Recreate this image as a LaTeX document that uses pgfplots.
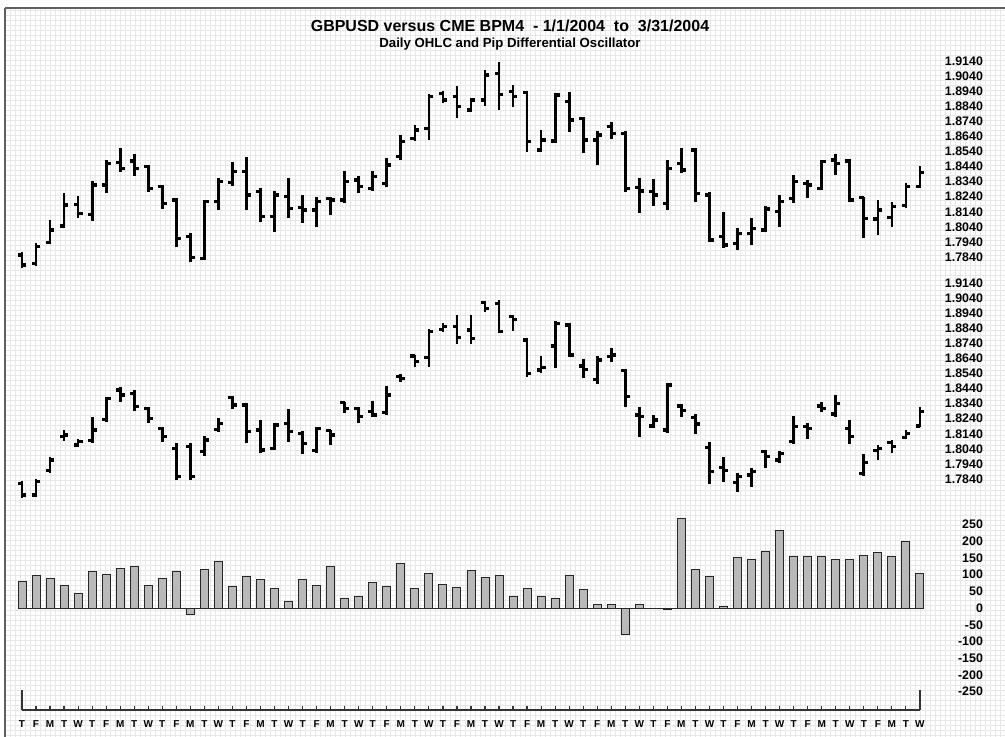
\documentclass[border=0pt]{standalone}
\usepackage{pgfplots}
\pgfplotsset{compat=1.18}
\usepackage{pgfplotstable}
\usepackage{fontspec}
\setmainfont{Liberation Sans}

% GBPUSD spot, daily OHLC
\pgfplotstableread{
i O H L C
0 1.7853 1.7871 1.7765 1.7787
1 1.7798 1.7931 1.7783 1.7909
2 1.7937 1.8086 1.7924 1.8019
3 1.8046 1.8262 1.8030 1.8185
4 1.8189 1.8247 1.8097 1.8130
5 1.8123 1.8344 1.8081 1.8318
6 1.8318 1.8484 1.8262 1.8461
7 1.8468 1.8565 1.8406 1.8428
8 1.8477 1.8526 1.8380 1.8428
9 1.8439 1.8450 1.8274 1.8296
10 1.8307 1.8318 1.8159 1.8196
11 1.8218 1.8229 1.7909 1.7964
12 1.7975 1.7997 1.7805 1.7836
13 1.7831 1.8218 1.7820 1.8207
14 1.8207 1.8362 1.8152 1.8340
15 1.8335 1.8473 1.8313 1.8406
16 1.8406 1.8504 1.8152 1.8251
17 1.8274 1.8296 1.8075 1.8108
18 1.8108 1.8278 1.8004 1.8251
19 1.8240 1.8366 1.8097 1.8163
20 1.8167 1.8251 1.8064 1.8152
21 1.8152 1.8240 1.8041 1.8207
22 1.8229 1.8240 1.8119 1.8218
23 1.8218 1.8411 1.8196 1.8340
24 1.8351 1.8380 1.8267 1.8307
25 1.8296 1.8411 1.8278 1.8373
26 1.8329 1.8495 1.8307 1.8450
27 1.8506 1.8649 1.8484 1.8605
28 1.8627 1.8716 1.8610 1.8683
29 1.8694 1.8919 1.8616 1.8904
30 1.8926 1.8941 1.8859 1.8882
31 1.8904 1.8977 1.8764 1.8837
32 1.8815 1.8897 1.8800 1.8882
33 1.8882 1.9081 1.8844 1.9047
34 1.9058 1.9131 1.8815 1.8919
35 1.8937 1.8981 1.8837 1.8904
36 1.8932 1.8941 1.8539 1.8605
37 1.8550 1.8683 1.8534 1.8616
38 1.8610 1.8926 1.8598 1.8915
39 1.8870 1.8932 1.8671 1.8749
40 1.8760 1.8771 1.8528 1.8616
41 1.8616 1.8676 1.8450 1.8649
42 1.8705 1.8738 1.8623 1.8660
43 1.8660 1.8676 1.8273 1.8296
44 1.8300 1.8362 1.8130 1.8278
45 1.8274 1.8358 1.8181 1.8251
46 1.8196 1.8484 1.8152 1.8428
47 1.8461 1.8565 1.8395 1.8417
48 1.8550 1.8561 1.8203 1.8262
49 1.8251 1.8274 1.7942 1.7953
50 1.7975 1.8141 1.7902 1.7920
51 1.7931 1.8030 1.7887 1.7997
52 1.7997 1.8101 1.7920 1.8030
53 1.8019 1.8181 1.8004 1.8159
54 1.8141 1.8251 1.8041 1.8207
55 1.8229 1.8384 1.8196 1.8340
56 1.8329 1.8351 1.8229 1.8318
57 1.8296 1.8484 1.8285 1.8473
58 1.8484 1.8523 1.8384 1.8461
59 1.8477 1.8490 1.8203 1.8218
60 1.8234 1.8240 1.7968 1.8097
61 1.8092 1.8218 1.7986 1.8152
62 1.8101 1.8203 1.8041 1.8174
63 1.8181 1.8333 1.8167 1.8307
64 1.8307 1.8444 1.8300 1.8402
}\spot

% CME BPM4 futures, daily OHLC
\pgfplotstableread{
i O H L C
0 1.7811 1.7827 1.7712 1.7734
1 1.7734 1.7838 1.7723 1.7822
2 1.7895 1.7984 1.7882 1.7966
3 1.8121 1.8165 1.8094 1.8132
4 1.8066 1.8103 1.8055 1.8088
5 1.8094 1.8254 1.8081 1.8165
6 1.8236 1.8386 1.8220 1.8375
7 1.8430 1.8448 1.8353 1.8397
8 1.8408 1.8430 1.8293 1.8320
9 1.8309 1.8320 1.8214 1.8242
10 1.8176 1.8187 1.8088 1.8121
11 1.8043 1.8077 1.7833 1.7856
12 1.8055 1.8081 1.7833 1.7856
13 1.8021 1.8125 1.7993 1.8099
14 1.8170 1.8242 1.8154 1.8209
15 1.8382 1.8391 1.8302 1.8331
16 1.8331 1.8342 1.8077 1.8154
17 1.8165 1.8231 1.8015 1.8032
18 1.8043 1.8209 1.8032 1.8198
19 1.8209 1.8302 1.8088 1.8154
20 1.8143 1.8161 1.8006 1.8077
21 1.8028 1.8187 1.8015 1.8176
22 1.8161 1.8165 1.8066 1.8132
23 1.8346 1.8353 1.8280 1.8309
24 1.8309 1.8320 1.8209 1.8254
25 1.8287 1.8360 1.8249 1.8265
26 1.8280 1.8457 1.8265 1.8397
27 1.8519 1.8537 1.8486 1.8508
28 1.8656 1.8663 1.8581 1.8618
29 1.8647 1.8833 1.8581 1.8817
30 1.8833 1.8873 1.8817 1.8851
31 1.8851 1.8928 1.8736 1.8780
32 1.8828 1.8928 1.8736 1.8773
33 1.9010 1.9023 1.8950 1.8972
34 1.9005 1.9027 1.8806 1.8817
35 1.8917 1.8928 1.8824 1.8899
36 1.8762 1.8773 1.8519 1.8541
37 1.8563 1.8656 1.8545 1.8581
38 1.8722 1.8890 1.8574 1.8873
39 1.8862 1.8877 1.8651 1.8663
40 1.8590 1.8634 1.8508 1.8567
41 1.8501 1.8656 1.8470 1.8629
42 1.8651 1.8707 1.8618 1.8663
43 1.8559 1.8567 1.8315 1.8386
44 1.8265 1.8315 1.8121 1.8254
45 1.8192 1.8265 1.8176 1.8231
46 1.8165 1.8479 1.8143 1.8464
47 1.8324 1.8338 1.8254 1.8293
48 1.8249 1.8271 1.8139 1.8205
49 1.8050 1.8088 1.7807 1.7889
50 1.7918 1.7984 1.7822 1.7895
51 1.7816 1.7882 1.7754 1.7856
52 1.7867 1.7911 1.7789 1.7889
53 1.8021 1.8032 1.7915 1.7988
54 1.7966 1.8028 1.7944 1.8010
55 1.8088 1.8258 1.8072 1.8187
56 1.8187 1.8214 1.8103 1.8176
57 1.8324 1.8353 1.8287 1.8309
58 1.8271 1.8397 1.8254 1.8342
59 1.8176 1.8231 1.8072 1.8121
60 1.7878 1.8006 1.7860 1.7948
61 1.8028 1.8066 1.7966 1.8043
62 1.8081 1.8099 1.8010 1.8055
63 1.8116 1.8165 1.8103 1.8143
64 1.8192 1.8315 1.8183 1.8287
}\fut

% Pip differential oscillator
\pgfplotstableread{
i D
0 79
1 97
2 89
3 66
4 45
5 109
6 99
7 117
8 123
9 66
10 89
11 109
12 -18
13 114
14 138
15 65
16 93
17 84
18 59
19 20
20 84
21 66
22 123
23 30
24 34
25 75
26 64
27 132
28 58
29 104
30 70
31 60
32 112
33 90
34 97
35 35
36 59
37 35
38 30
39 96
40 54
41 11
42 11
43 -78
44 11
45 0
46 -4
47 267
48 114
49 93
50 6
51 150
52 145
53 168
54 231
55 155
56 155
57 155
58 145
59 145
60 157
61 165
62 155
63 199
64 104
}\diff

\pgfplotsset{
  panel/.style={
    scale only axis, anchor=south west,
    width=463pt, xmin=-1, xmax=65,
    axis line style={draw=none},
    xtick=\empty, major tick length=0pt,
    yticklabel pos=right,
    yticklabel style={anchor=east, xshift=28pt,
      font=\bfseries\fontsize{6.2}{7}\selectfont},
  },
  pricepanel/.style={
    panel, height=113.08pt, ymin=1.77, ymax=1.92,
    ytick={1.784,1.794,1.804,1.814,1.824,1.834,1.844,1.854,1.864,1.874,1.884,1.894,1.904,1.914},
    yticklabels={1.7840,1.7940,1.8040,1.8140,1.8240,1.8340,1.8440,1.8540,1.8640,1.8740,1.8840,1.8940,1.9040,1.9140},
  },
  hl/.style={draw=none, mark=none, forget plot,
    error bars/.cd, y dir=plus, y explicit, error mark=none,
    error bar style={black, line width=1.35pt}},
  opentick/.style={only marks, mark=-, mark size=1.1pt,
    mark options={xshift=-1.1pt, line width=1.7pt, black}},
  closetick/.style={only marks, mark=-, mark size=1.1pt,
    mark options={xshift=1.1pt, line width=1.7pt, black}},
}

\begin{document}
\begin{tikzpicture}[x=1pt,y=1pt]
\useasboundingbox (0,0) rectangle (502.5,368);
\fill[white] (0,0) rectangle (502.5,368);

% graph-paper background
\begin{axis}[at={(2.5pt,-2pt)}, anchor=south west, scale only axis,
  width=502.5pt, height=366pt, xmin=0, xmax=201, ymin=0, ymax=146.4,
  xtick={0,...,201}, ytick={0,...,146}, xticklabels={}, yticklabels={},
  major tick length=0pt, grid=major,
  grid style={gray!19, line width=0.3pt},
  axis x line*=top, axis y line*=left,
  axis line style={gray!75!black, line width=1.1pt}]
\end{axis}

% GBPUSD spot
\begin{axis}[pricepanel, at={(3.985pt,228.95pt)}]
\addplot[hl] table[x=i, y=L, y error plus expr=\thisrow{H}-\thisrow{L}] {\spot};
\addplot[opentick] table[x=i, y=O] {\spot};
\addplot[closetick] table[x=i, y=C] {\spot};
\end{axis}

% CME BPM4
\begin{axis}[pricepanel, at={(3.985pt,117.95pt)}]
\addplot[hl] table[x=i, y=L, y error plus expr=\thisrow{H}-\thisrow{L}] {\fut};
\addplot[opentick] table[x=i, y=O] {\fut};
\addplot[closetick] table[x=i, y=C] {\fut};
\end{axis}

% Pip differential oscillator
\begin{axis}[panel, at={(3.985pt,13.8pt)}, height=100.4pt, ymin=-300, ymax=300,
  ytick={-250,-200,-150,-100,-50,0,50,100,150,200,250},
  yticklabels={-250,-200,-150,-100,-50,0,50,100,150,200,250}]
\addplot[ybar, bar width=4pt, fill=gray!55, draw=black!85, line width=0.45pt] table[x=i, y=D] {\diff};
\addplot[black!85, line width=0.5pt] coordinates {(-0.3,0) (64.3,0)};
\end{axis}

% date axis
\begin{axis}[at={(11pt,13pt)}, anchor=south west, scale only axis,
  width=448.96pt, height=10pt, xmin=0, xmax=64, ymin=0, ymax=1,
  axis x line*=bottom, axis y line=none,
  xtick={0,...,64},
  xticklabels={T,F,M,T,W,T,F,M,T,W,T,F,M,T,W,T,F,M,T,W,T,F,M,T,W,T,F,M,T,W,T,F,M,T,W,T,F,M,T,W,T,F,M,T,W,T,F,M,T,W,T,F,M,T,W,T,F,M,T,W,T,F,M,T,W},
  tick align=inside, major tick length=2pt,
  tick style={black!80, line width=0.6pt},
  axis line style={black!80, line width=0.7pt},
  extra x ticks={0,64}, extra x tick labels={},
  extra x tick style={major tick length=10pt},
  xticklabel style={font=\bfseries\fontsize{5}{5}\selectfont, yshift=-2pt}]
\end{axis}

\node[font=\bfseries\fontsize{8}{9}\selectfont] at (255,355) {GBPUSD versus CME BPM4\ \ - 1/1/2004\ \ to\ \ 3/31/2004};
\node[font=\bfseries\fontsize{6.6}{7}\selectfont] at (255,346) {Daily OHLC and Pip Differential Oscillator};
\end{tikzpicture}
\end{document}
